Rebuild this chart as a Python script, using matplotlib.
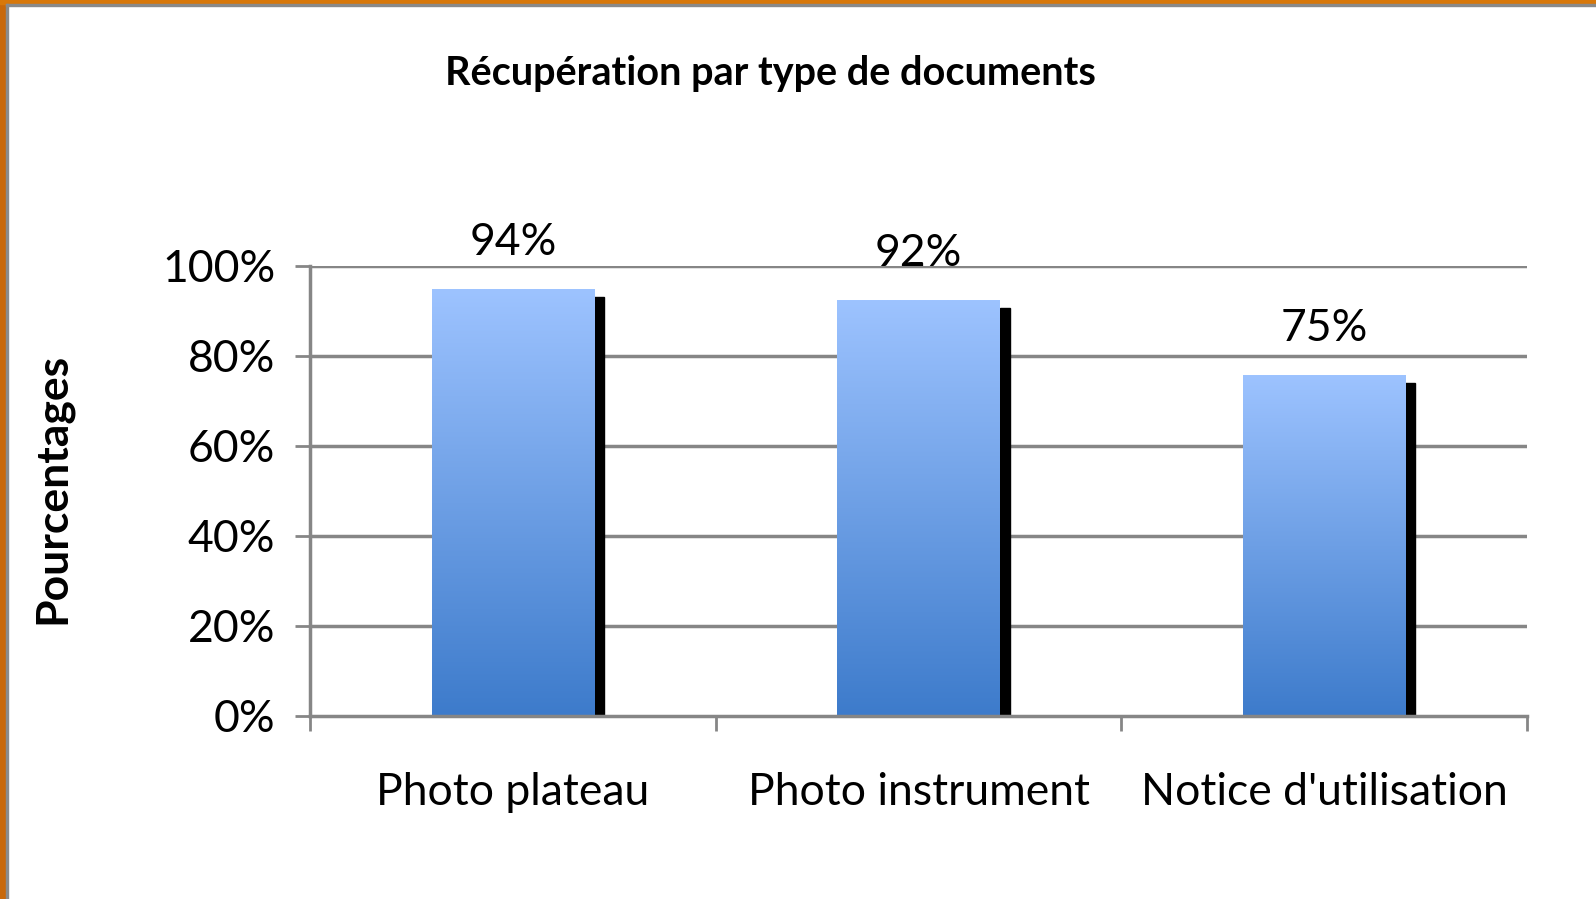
import numpy as np
import matplotlib
matplotlib.use("Agg")
import matplotlib.pyplot as plt
from matplotlib.patches import Rectangle
from matplotlib.colors import LinearSegmentedColormap

# data
categories = ["Photo plateau", "Photo instrument", "Notice d'utilisation"]
values = [94.7, 92.3, 75.6]
value_labels = ["94%", "92%", "75%"]
y_ticks = [0, 20, 40, 60, 80, 100]

plt.rcParams['font.family'] = ['Lato', 'DejaVu Sans']

fig = plt.figure(figsize=(15.96, 8.99), dpi=100)
fig.patch.set_facecolor("white")

# orange frame bits of the slide on the left and top
fig.patches.append(Rectangle((0, 0), 6 / 1596, 1, transform=fig.transFigure,
                             color="#c8680a", zorder=0))
fig.patches.append(Rectangle((0, 1 - 4 / 899), 1, 4 / 899, transform=fig.transFigure,
                             color="#d8780a", zorder=0))
fig.patches.append(Rectangle((6 / 1596, 0), 2 / 1596, 1 - 4 / 899, transform=fig.transFigure,
                             color="#8a8a8a", zorder=0))
fig.patches.append(Rectangle((6 / 1596, 1 - 6 / 899), 1, 2 / 899, transform=fig.transFigure,
                             color="#8a8a8a", zorder=0))

ax = fig.add_axes([310 / 1596, 1 - 716 / 899, 1217 / 1596, 450 / 899])

grid_col = "#868686"
for t in y_ticks[1:]:
    ax.axhline(t, color=grid_col, lw=2.5, zorder=1)

cmap = LinearSegmentedColormap.from_list("bar", ["#3d7bcb", "#9dc3ff"])
grad = np.linspace(0, 1, 256).reshape(-1, 1)
bar_w = 0.40
shadow_w = 0.025
for i, v in enumerate(values):
    x0 = i + 0.5 - bar_w / 2
    # shadow to the right of each bar
    ax.add_patch(Rectangle((x0 + bar_w, 0), shadow_w, v - 1.6, color="black", zorder=2))
    ax.imshow(grad, extent=(x0, x0 + bar_w, 0, v), origin="lower", cmap=cmap,
              aspect="auto", zorder=3)
    ax.text(i + 0.5, v + 6.0, value_labels[i], ha="center", va="bottom",
            fontsize=32, color="black")

ax.set_xlim(0, 3)
ax.set_ylim(0, 100)

ax.set_yticks(y_ticks)
ax.set_yticklabels([f"{t}%" for t in y_ticks])
ax.set_xticks([0, 1, 2, 3])
ax.set_xticklabels([])
ax.set_xticks([0.5, 1.5, 2.5], minor=True)
ax.set_xticklabels(categories, minor=True)

ax.tick_params(axis="y", length=11, width=2, color=grid_col, labelsize=32, pad=14)
ax.tick_params(axis="x", which="major", length=11, width=2, color=grid_col)
ax.tick_params(axis="x", which="minor", length=0, labelsize=32, pad=40)

for s in ["top", "right"]:
    ax.spines[s].set_visible(False)
for s in ["left", "bottom"]:
    ax.spines[s].set_color(grid_col)
    ax.spines[s].set_linewidth(2.5)
    ax.spines[s].set_zorder(4)

fig.text(52 / 1596, 1 - 488 / 899, "Pourcentages", rotation=90, ha="center", va="center",
         fontsize=32, fontweight="bold")
fig.text(770 / 1596, 1 - 74 / 899, "Récupération par type de documents",
         ha="center", va="center", fontsize=28.5, fontweight="bold")

fig.savefig("out.png", dpi=100)
